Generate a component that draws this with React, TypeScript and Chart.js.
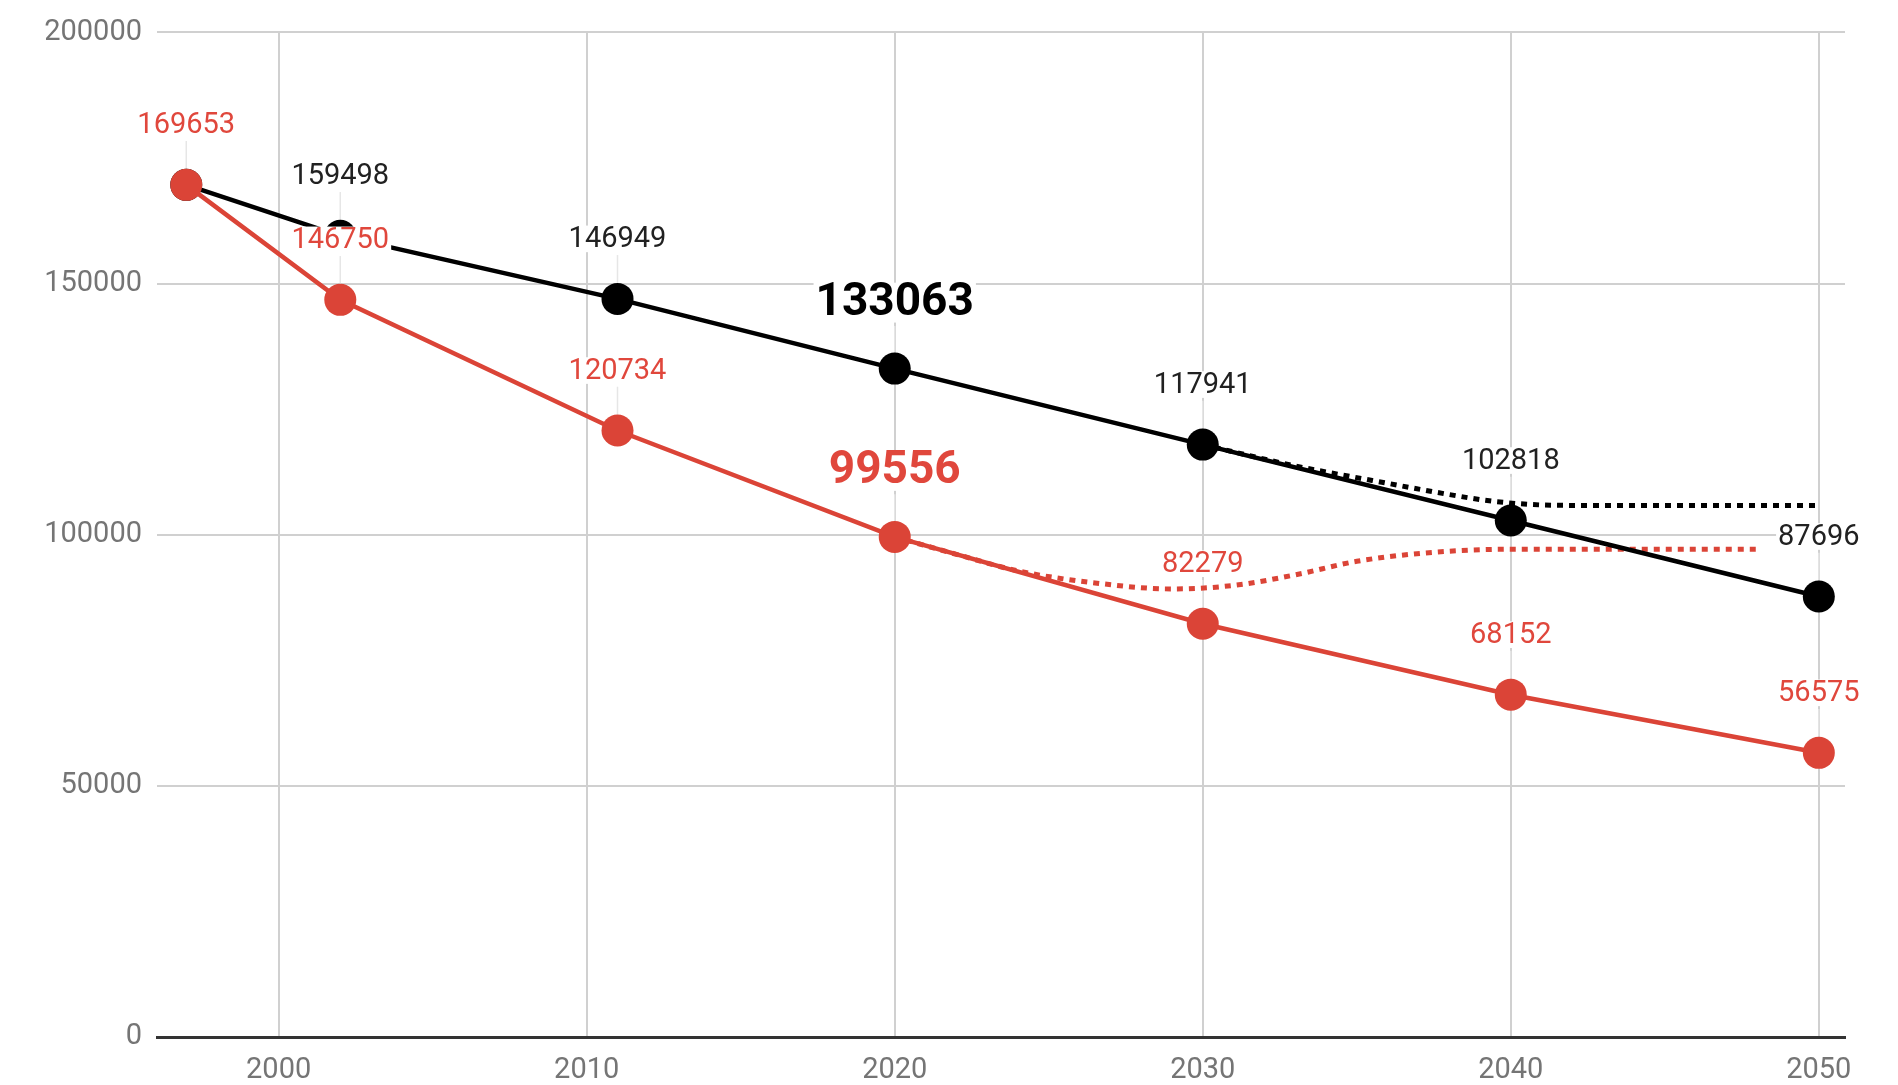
import React, { useEffect, useRef } from "react";
import { Chart, registerables } from "chart.js";

Chart.register(...registerables);

// ---- data ----
const years = [1997, 2002, 2011, 2020, 2030, 2040, 2050];
const blackValues = [169653, 159498, 146949, 133063, 117941, 102818, 87696];
const redValues = [169653, 146750, 120734, 99556, 82279, 68152, 56575];

const blackProjYears = [2030, 2033, 2035.5, 2038, 2039.5, 2041.5, 2045, 2050];
const blackProjValues = [117941, 113700, 110800, 108000, 106600, 105850, 105800, 105800];

const redProjYears = [2020, 2022, 2024, 2026.5, 2029, 2031, 2033, 2035, 2037.5, 2040, 2048];
const redProjValues = [99556, 96100, 92800, 90400, 89200, 89900, 92000, 94700, 96500, 97100, 97100];

const xTicks = [2000, 2010, 2020, 2030, 2040, 2050];
const yTicks = [0, 50000, 100000, 150000, 200000];

const highlightIndex = 3; // 2020 labels drawn bold & large
const blackLabelSkip = [0]; // first black label hidden under red one

const RED = "#db4437";
const BLACK = "#000000";

const toXY = (xs: number[], ys: number[]) => xs.map((x, i) => ({ x, y: ys[i] }));

const labelPlugin = {
  id: "pointValueLabels",
  _items(chart: any) {
    const items: any[] = [];
    chart.data.datasets.forEach((ds: any, di: number) => {
      if (!ds.labelColor) return;
      const meta = chart.getDatasetMeta(di);
      meta.data.forEach((pt: any, i: number) => {
        if (ds.labelSkip && ds.labelSkip.includes(i)) return;
        const big = i === highlightIndex;
        const size = big ? 46 : 29;
        const offset = big ? 66 : 60;
        items.push({
          text: String(ds.data[i].y),
          x: pt.x,
          y: pt.y - offset,
          px: pt.x,
          py: pt.y,
          r: ds.pointRadius || 0,
          size,
          big,
          color: big ? ds.labelBigColor : ds.labelColor,
          z: ds.labelZ || 0,
        });
      });
    });
    items.sort((a, b) => a.z - b.z);
    return items;
  },
  beforeDatasetsDraw(chart: any) {
    const ctx = chart.ctx;
    const items = (labelPlugin as any)._items(chart);
    ctx.save();
    ctx.strokeStyle = "#e6e6e6";
    ctx.lineWidth = 1.5;
    items.forEach((it: any) => {
      const half = it.size * 0.42;
      ctx.beginPath();
      ctx.moveTo(it.px, it.y + half + 4);
      ctx.lineTo(it.px, it.py - it.r);
      ctx.stroke();
    });
    ctx.restore();
  },
  afterDatasetsDraw(chart: any) {
    const ctx = chart.ctx;
    const items = (labelPlugin as any)._items(chart);
    ctx.save();
    ctx.textAlign = "center";
    ctx.textBaseline = "middle";
    items.forEach((it: any) => {
      ctx.font = `${it.big ? "bold " : ""}${it.size}px Roboto`;
      const w = ctx.measureText(it.text).width;
      const h = it.size * 0.78;
      ctx.fillStyle = "#ffffff";
      ctx.fillRect(it.x - w / 2 - 2, it.y - h / 2 - 2, w + 4, h + 4);
      ctx.fillStyle = it.color;
      ctx.fillText(it.text, it.x, it.y + 1);
    });
    ctx.restore();
  },
};

export default function App() {
  const ref = useRef<HTMLCanvasElement | null>(null);

  useEffect(() => {
    if (!ref.current) return;
    const chart = new Chart(ref.current, {
      type: "line",
      data: {
        datasets: [
          {
            data: toXY(years, redValues),
            borderColor: RED,
            backgroundColor: RED,
            borderWidth: 4.5,
            pointRadius: 16,
            pointBackgroundColor: RED,
            pointBorderWidth: 0,
            tension: 0,
            labelColor: "#e0473c",
            labelBigColor: "#e0473c",
            labelZ: 2,
          } as any,
          {
            data: toXY(years, blackValues),
            borderColor: BLACK,
            backgroundColor: BLACK,
            borderWidth: 4.5,
            pointRadius: 16,
            pointBackgroundColor: BLACK,
            pointBorderWidth: 0,
            tension: 0,
            labelColor: "#212121",
            labelBigColor: "#000000",
            labelSkip: blackLabelSkip,
            labelZ: 1,
          } as any,
          {
            data: toXY(redProjYears, redProjValues),
            borderColor: RED,
            borderWidth: 5,
            borderDash: [6, 6],
            pointRadius: 0,
            cubicInterpolationMode: "monotone",
          } as any,
          {
            data: toXY(blackProjYears, blackProjValues),
            borderColor: BLACK,
            borderWidth: 5,
            borderDash: [6, 6],
            pointRadius: 0,
            cubicInterpolationMode: "monotone",
          } as any,
        ],
      },
      options: {
        responsive: false,
        animation: false,
        events: [],
        layout: { padding: { top: 25, right: 53, left: 0, bottom: 0 } },
        plugins: {
          legend: { display: false },
          tooltip: { enabled: false },
        },
        scales: {
          x: {
            type: "linear",
            min: 1996.05,
            max: 2050.85,
            afterBuildTicks: (s: any) => {
              s.ticks = xTicks.map((v) => ({ value: v }));
            },
            afterFit: (s: any) => {
              s.height = 48;
            },
            grid: { color: "#d0d0d0", lineWidth: 2, drawTicks: false },
            border: { display: true, color: "#333333", width: 3 },
            ticks: {
              color: "#757575",
              font: { family: "Roboto", size: 29 },
              padding: 16,
              maxRotation: 0,
              autoSkip: false,
              callback: (v: any) => String(v),
            },
          },
          y: {
            type: "linear",
            min: 0,
            max: 200000,
            afterBuildTicks: (s: any) => {
              s.ticks = yTicks.map((v) => ({ value: v }));
            },
            afterFit: (s: any) => {
              s.width = 157;
            },
            grid: { color: "#d0d0d0", lineWidth: 2, drawTicks: false },
            border: { display: false },
            ticks: {
              color: "#757575",
              font: { family: "Roboto", size: 29 },
              padding: 15,
              autoSkip: false,
              callback: (v: any) => String(v),
            },
          },
        },
      } as any,
      plugins: [labelPlugin as any],
    });
    return () => chart.destroy();
  }, []);

  return (
    <div
      style={{
        position: "fixed",
        left: 0,
        top: 0,
        width: 1898,
        height: 1085,
        background: "#ffffff",
      }}
    >
      <canvas ref={ref} width={1898} height={1085} style={{ display: "block" }} />
    </div>
  );
}
